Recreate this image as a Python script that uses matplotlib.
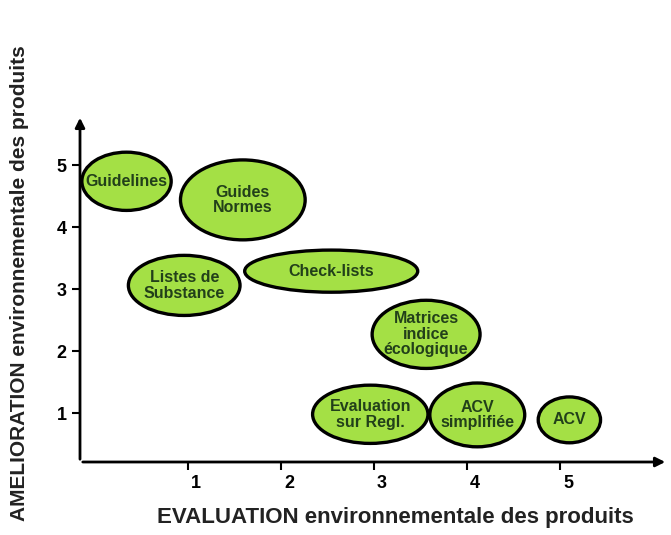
"""Positionnement des outils d'éco-conception : évaluation vs amélioration."""
import matplotlib

matplotlib.use("Agg")
import matplotlib.pyplot as plt
import matplotlib.transforms as mtransforms
from matplotlib.patches import Ellipse

plt.rcParams["font.family"] = ["Liberation Sans", "DejaVu Sans"]

TOOLS = [
    "Guidelines",
    "Guides\nNormes",
    "Listes de\nSubstance",
    "Check-lists",
    "Matrices\nindice\nécologique",
    "Evaluation\nsur Regl.",
    "ACV\nsimplifiée",
    "ACV",
]
EVALUATION = [0.34, 1.59, 0.96, 2.54, 3.56, 2.96, 4.11, 5.10]
AMELIORATION = [4.74, 4.44, 3.06, 3.29, 2.27, 0.98, 0.97, 0.89]
SPREAD_X = [0.96, 1.34, 1.20, 1.86, 1.16, 1.24, 1.02, 0.67]
SPREAD_Y = [0.94, 1.29, 0.97, 0.68, 1.10, 0.94, 1.03, 0.74]
TICKS = [1, 2, 3, 4, 5]

FILL = "#a4e045"
TEXT = "#22401a"

fig = plt.figure(figsize=(6.71, 5.35), dpi=100)
ax = fig.add_axes([80 / 671, 73 / 535, 588 / 671, 347 / 535])
ax.set_xlim(-0.16, 6.16)
ax.set_ylim(0.21, 5.81)

for name, x, y, w, h in zip(TOOLS, EVALUATION, AMELIORATION, SPREAD_X, SPREAD_Y):
    ax.add_patch(
        Ellipse((x, y), w, h, facecolor=FILL, edgecolor="black", linewidth=2.4, zorder=3)
    )
    ax.text(
        x, y, name, ha="center", va="center", fontsize=11.5, fontweight="bold",
        color=TEXT, linespacing=1.05, zorder=4,
    )

# hand-drawn style axes with arrows
for s in ax.spines.values():
    s.set_visible(False)
arrow = dict(arrowstyle="-|>", lw=2, color="black", mutation_scale=14)
ax.annotate("", xy=(0, 1), xytext=(0, 0), xycoords="axes fraction", arrowprops=arrow)
ax.annotate("", xy=(1, 0), xytext=(0, 0), xycoords="axes fraction", arrowprops=arrow)

ax.set_xticks(TICKS)
ax.set_yticks(TICKS)
ax.tick_params(axis="both", direction="out", length=6, width=1.5, labelsize=13)
for lbl in ax.get_xticklabels():
    lbl.set_fontweight("bold")
    lbl.set_horizontalalignment("left")
    lbl.set_transform(lbl.get_transform() + mtransforms.ScaledTranslation(3 / 100, 0, fig.dpi_scale_trans))
for lbl in ax.get_yticklabels():
    lbl.set_fontweight("bold")

ax.set_xlabel("EVALUATION environnementale des produits", fontsize=16,
              fontweight="bold", color="#222222")
ax.xaxis.set_label_coords(0.536, -0.161)
ax.set_ylabel("AMELIORATION environnementale des produits", fontsize=15,
              fontweight="bold", color="#222222")
ax.yaxis.set_label_coords(-0.103, 0.515)
ax.xaxis.label.set_va("center")
ax.yaxis.label.set_va("center")

fig.savefig("out.png", dpi=100)
